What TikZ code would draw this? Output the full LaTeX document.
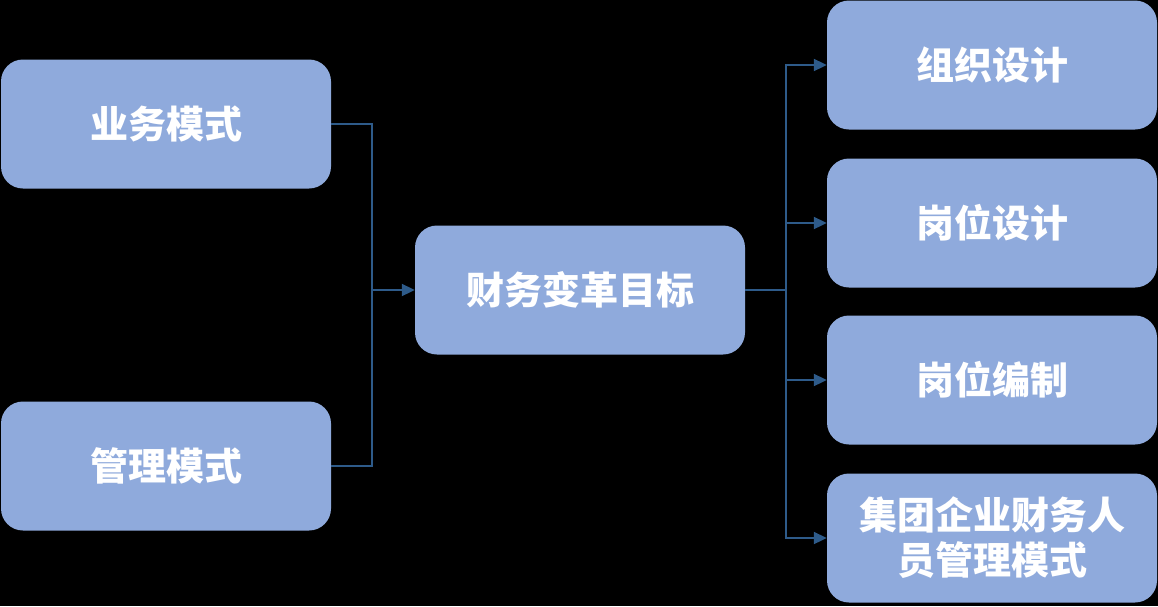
\documentclass[tikz,border=0pt]{standalone}
\usepackage{fontspec}
\newfontfamily\cjk{Noto Sans CJK SC}
\usetikzlibrary{arrows.meta}
\definecolor{boxblue}{HTML}{8FAADC}
\definecolor{lineblue}{HTML}{2E5B8A}

\begin{document}
\begin{tikzpicture}[x=1pt,y=-1pt,
    box/.style={fill=boxblue,rounded corners=22pt,minimum width=330pt,minimum height=129pt,
                inner sep=0pt,text=white,align=center,font=\cjk\bfseries\fontsize{38}{45}\selectfont},
    link/.style={draw=lineblue,line width=2pt},
    tip/.style={link,-{Triangle[length=13pt,width=12pt]}}]
  \fill[black] (0,0) rectangle (1158,606);
  \useasboundingbox (0,0) rectangle (1158,606);

  \node[box] (yewu) at (166,124) {业务模式};
  \node[box] (guanli) at (166,466) {管理模式};
  \node[box] (mubiao) at (580,290) {财务变革目标};
  \foreach[count=\i] \t/\y in {组织设计/65,岗位设计/223,岗位编制/380,{集团企业财务人\\员管理模式}/538} {
    \node[box] (r\i) at (992,\y) {\t};
  }

  \coordinate (jl) at (372,290);
  \coordinate (jr) at (786,290);
  \draw[link] (yewu.east) -| (jl);
  \draw[link] (guanli.east) -| (jl);
  \draw[tip] (jl) -- (mubiao.west);
  \draw[link] (mubiao.east) -- (jr);
  \foreach \i in {1,...,4}
    \draw[tip] (jr) |- (r\i.west);
\end{tikzpicture}
\end{document}
